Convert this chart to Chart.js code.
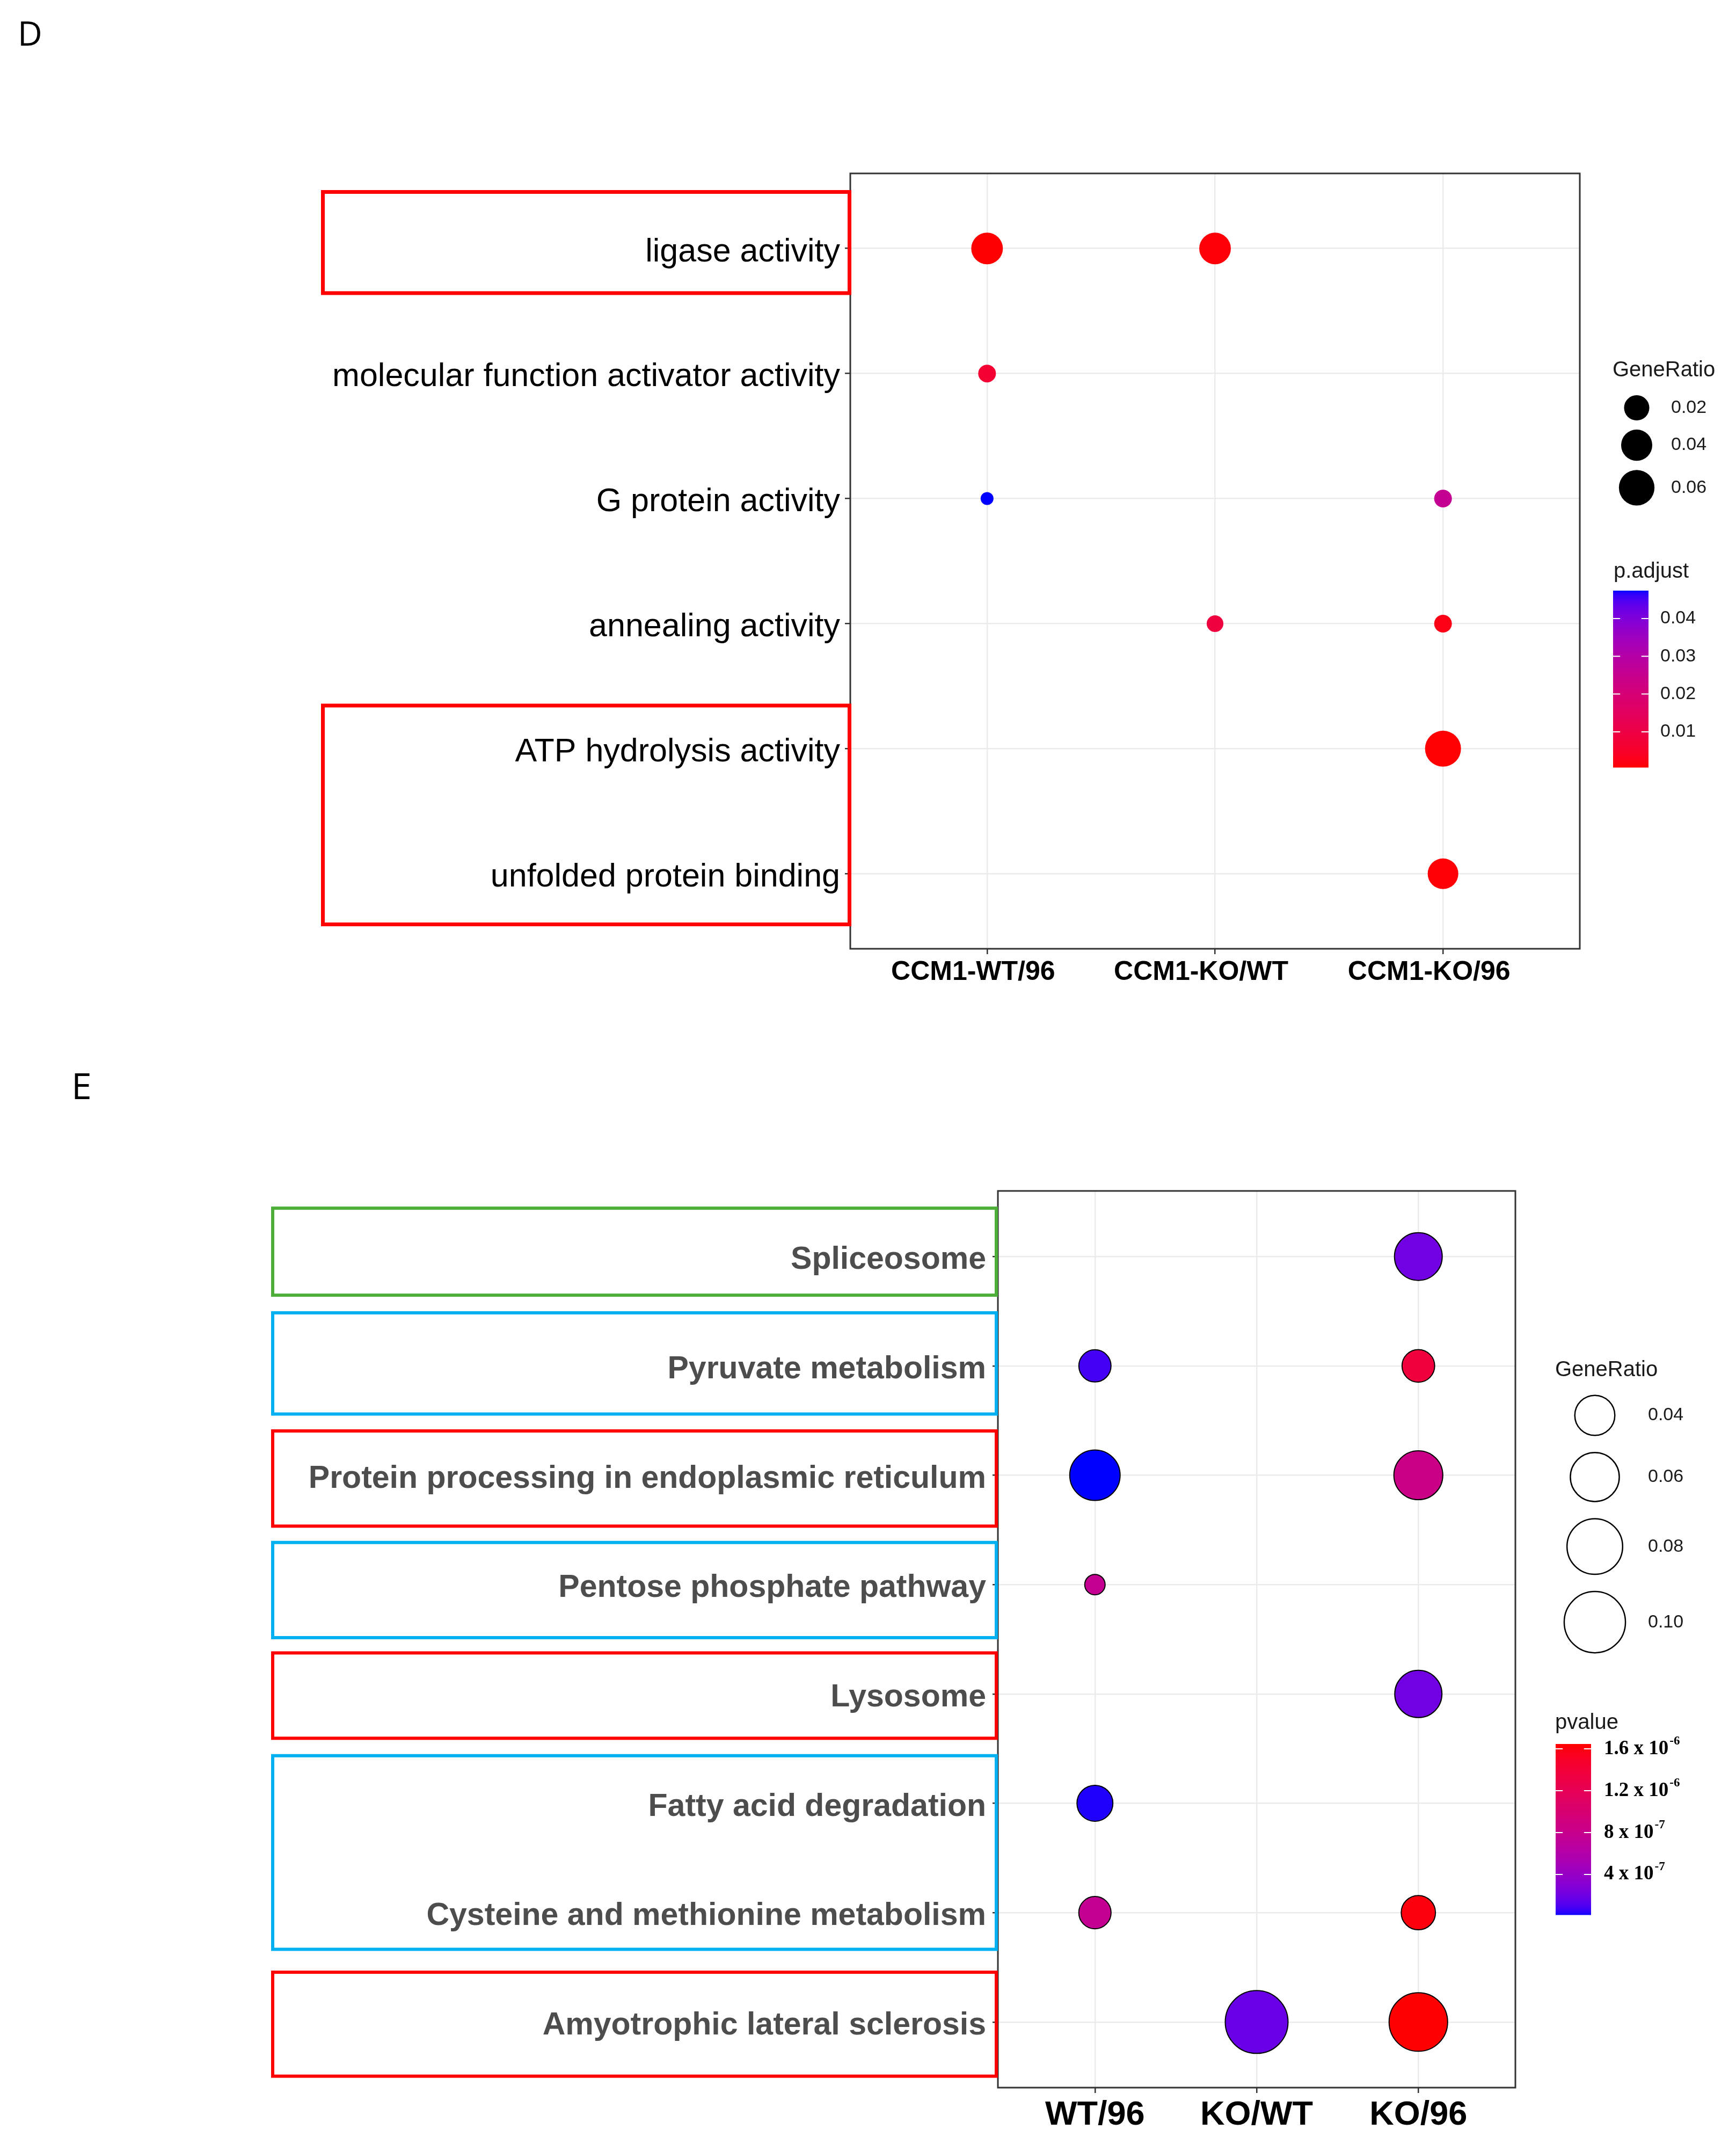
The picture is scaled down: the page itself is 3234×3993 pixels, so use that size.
<!DOCTYPE html>
<html>
<head>
<meta charset="utf-8">
<script src="https://cdn.jsdelivr.net/npm/chart.js@4.4.0/dist/chart.umd.min.js"></script>
<style>
html, body { margin: 0; padding: 0; background: #fff; }
body { width: 3234px; height: 3993px; position: relative; overflow: hidden; }
canvas { position: absolute; left: 0; }
#chartD { top: 0; }
#chartE { top: 1920px; }
</style>
</head>
<body>
<canvas id="chartD" width="3234" height="1920"></canvas>
<canvas id="chartE" width="3234" height="2073"></canvas>
<script>
// ---- panel D : GO terms ----
const dTerms = ['ligase activity', 'molecular function activator activity', 'G protein activity',
                'annealing activity', 'ATP hydrolysis activity', 'unfolded protein binding'];
const dGroups = ['CCM1-WT/96', 'CCM1-KO/WT', 'CCM1-KO/96'];
const dTermIdx  = [0, 0, 1, 2, 2, 3, 3, 4, 5];
const dGroupIdx = [0, 1, 0, 0, 2, 1, 2, 2, 2];
const dGeneRatio = [0.042, 0.042, 0.0056, 0.003, 0.0056, 0.0046, 0.0056, 0.062, 0.0378];
const dPadjust   = [0.0006, 0.0012, 0.0067, 0.0474, 0.026, 0.009, 0.0025, 0.0008, 0.001];
const dSizeBreaks  = [0.02, 0.04, 0.06];
const dColorBreaks = [0.04, 0.03, 0.02, 0.01];

// ---- panel E : KEGG pathways ----
const eTerms = ['Spliceosome', 'Pyruvate metabolism', 'Protein processing in endoplasmic reticulum',
                'Pentose phosphate pathway', 'Lysosome', 'Fatty acid degradation',
                'Cysteine and methionine metabolism', 'Amyotrophic lateral sclerosis'];
const eGroups = ['WT/96', 'KO/WT', 'KO/96'];
const eTermIdx  = [0, 1, 1, 2, 2, 3, 4, 5, 6, 6, 7, 7];
const eGroupIdx = [2, 0, 2, 0, 2, 0, 2, 0, 0, 2, 1, 2];
const eGeneRatio = [0.057, 0.0285, 0.029, 0.064, 0.060, 0.022, 0.0556, 0.0333, 0.0286, 0.031, 0.106, 0.090];
const ePvalue    = [2.1e-7, 8.0e-8, 1.37e-6, 1.5e-8, 8.4e-7, 7.6e-7, 2.1e-7, 3.1e-8, 7.6e-7, 1.61e-6, 1.8e-7, 1.646e-6];
const eSizeBreaks  = [0.04, 0.06, 0.08, 0.10];
const eColorBreaks = [1.6e-6, 1.2e-6, 8e-7, 4e-7];

const W = 3234;
const RED = [255, 0, 0], BLUE = [0, 0, 255];

// colour gradient in Lab space, like ggplot's scale_colour_gradient
const WHITE = [0.95047, 1, 1.08883];
function toLin(c) { c /= 255; return c <= 0.04045 ? c / 12.92 : Math.pow((c + 0.055) / 1.055, 2.4); }
function toSrgb(c) { c = Math.max(0, Math.min(1, c)); return Math.round(255 * (c <= 0.0031308 ? 12.92 * c : 1.055 * Math.pow(c, 1 / 2.4) - 0.055)); }
function fLab(t) { return t > 0.008856 ? Math.cbrt(t) : 7.787 * t + 16 / 116; }
function fInv(t) { return t > 0.206893 ? t * t * t : (t - 16 / 116) / 7.787; }
function rgb2lab(rgb) {
    const [r, g, b] = rgb.map(toLin);
    const X = 0.4124 * r + 0.3576 * g + 0.1805 * b;
    const Y = 0.2126 * r + 0.7152 * g + 0.0722 * b;
    const Z = 0.0193 * r + 0.1192 * g + 0.9505 * b;
    const fx = fLab(X / WHITE[0]), fy = fLab(Y / WHITE[1]), fz = fLab(Z / WHITE[2]);
    return [116 * fy - 16, 500 * (fx - fy), 200 * (fy - fz)];
}
function lab2rgb(lab) {
    const fy = (lab[0] + 16) / 116, fx = fy + lab[1] / 500, fz = fy - lab[2] / 200;
    const X = WHITE[0] * fInv(fx), Y = WHITE[1] * fInv(fy), Z = WHITE[2] * fInv(fz);
    const r = 3.2406 * X - 1.5372 * Y - 0.4986 * Z;
    const g = -0.9689 * X + 1.8758 * Y + 0.0415 * Z;
    const b = 0.0557 * X - 0.2040 * Y + 1.0570 * Z;
    return 'rgb(' + toSrgb(r) + ',' + toSrgb(g) + ',' + toSrgb(b) + ')';
}
function makeColor(values, low, high) {
    const lo = Math.min(...values), hi = Math.max(...values);
    const a = rgb2lab(low), b = rgb2lab(high);
    const fn = v => {
        const t = Math.max(0, Math.min(1, (v - lo) / (hi - lo)));
        return lab2rgb(a.map((x, i) => x + (b[i] - x) * t));
    };
    fn.lo = lo; fn.hi = hi;
    return fn;
}
// point diameter (px) from GeneRatio, area scaled between data min and max
function makeSize(values, range) {
    const lo = Math.min(...values), hi = Math.max(...values);
    return v => range[0] + (range[1] - range[0]) * Math.sqrt(Math.max(0, (v - lo) / (hi - lo)));
}

function sci(v) {
    const e = Math.floor(Math.log10(v) + 1e-9);
    const m = Math.round(v / Math.pow(10, e) * 10) / 10;
    return [m + ' x 10', String(e)];
}

function colorBar(ctx, color, breaks, x, top, w, h, drawLabel) {
    for (let y = 0; y < h; y++) {
        const v = color.hi - (y / h) * (color.hi - color.lo);
        ctx.fillStyle = color(v);
        ctx.fillRect(x, top + y, w, 1.5);
    }
    ctx.strokeStyle = '#fff';
    ctx.lineWidth = 2;
    for (const b of breaks) {
        const ty = top + h - (b - color.lo) / (color.hi - color.lo) * h;
        ctx.beginPath();
        ctx.moveTo(x, ty); ctx.lineTo(x + w / 5, ty);
        ctx.moveTo(x + w - w / 5, ty); ctx.lineTo(x + w, ty);
        ctx.stroke();
        drawLabel(b, ty);
    }
}

function panelPlugin(p) {
    return {
        id: 'panel' + p.letter,
        afterDatasetsDraw(chart) {
            const a = chart.chartArea, ctx = chart.ctx;
            ctx.save();
            ctx.strokeStyle = '#333333';
            ctx.lineWidth = 3;
            ctx.strokeRect(a.left, a.top, a.right - a.left, a.bottom - a.top);
            ctx.restore();
        },
        afterDraw(chart) {
            const ctx = chart.ctx, ys = chart.scales.y;
            ctx.save();
            // highlight boxes round the term labels
            ctx.lineWidth = p.boxWidth;
            for (const b of p.boxes) {
                const t = ys.getPixelForValue(b.from + b.top);
                const bt = ys.getPixelForValue(b.to + b.bottom);
                ctx.strokeStyle = b.color;
                ctx.strokeRect(p.boxLeft + p.boxWidth / 2, t + p.boxWidth / 2,
                    p.boxRight - p.boxLeft - p.boxWidth, bt - t - p.boxWidth);
            }
            // panel letter
            ctx.fillStyle = '#000';
            ctx.font = p.letterFont;
            ctx.textBaseline = 'alphabetic';
            ctx.textAlign = 'left';
            ctx.fillText(p.letter, p.letterX, p.letterY);
            p.legend(ctx);
            ctx.restore();
        }
    };
}

function buildChart(id, p) {
    const H = document.getElementById(id).height;
    const size = p.size, color = p.color;
    const pts = p.termIdx.map((t, i) => ({x: p.groupIdx[i], y: t, r: size(p.ratio[i]) / 2 - p.inset}));
    return new Chart(document.getElementById(id), {
        type: 'bubble',
        data: {
            datasets: [{
                data: pts,
                backgroundColor: p.pval.map(v => color(v)),
                borderColor: '#000',
                borderWidth: p.pointBorder,
                hoverRadius: 0
            }]
        },
        options: {
            responsive: false,
            animation: false,
            devicePixelRatio: 1,
            events: [],
            layout: {padding: {top: p.area.top, right: W - p.area.right, left: 0, bottom: 0}},
            plugins: {legend: {display: false}, tooltip: {enabled: false}},
            scales: {
                x: {
                    type: 'linear', min: -0.6, max: p.groups.length - 0.4,
                    afterBuildTicks: s => { s.ticks = p.groups.map((g, i) => ({value: i})); },
                    afterFit: s => { s.height = H - p.area.bottom; },
                    grid: {color: '#EBEBEB', lineWidth: 2.5, tickLength: 10, tickColor: '#333', tickWidth: 2.5},
                    border: {display: false},
                    ticks: {
                        callback: v => p.groups[v], autoSkip: false, maxRotation: 0, minRotation: 0,
                        font: p.xFont, color: '#000', padding: 4, labelOffset: p.xLabelOffset
                    }
                },
                y: {
                    type: 'linear', reverse: true, min: -0.6, max: p.terms.length - 0.4,
                    afterBuildTicks: s => { s.ticks = p.terms.map((t, i) => ({value: i})); },
                    afterFit: s => { s.width = p.area.left; },
                    grid: {color: '#EBEBEB', lineWidth: 2.5, tickLength: 10, tickColor: '#333', tickWidth: 2.5},
                    border: {display: false},
                    ticks: {
                        callback: v => p.terms[v], autoSkip: false,
                        font: p.yFont, color: p.yColor, padding: p.yPad, labelOffset: 7
                    }
                }
            }
        },
        plugins: [panelPlugin(p)]
    });
}

// ---- panel D ----
const dSize = makeSize(dGeneRatio, [24, 67]);
const dColor = makeColor(dPadjust, RED, BLUE);
buildChart('chartD', {
    letter: 'D', letterX: 33, letterY: 85, letterFont: '63px "Open Sans"',
    terms: dTerms, groups: dGroups, termIdx: dTermIdx, groupIdx: dGroupIdx,
    ratio: dGeneRatio, pval: dPadjust, size: dSize, color: dColor, inset: 0, pointBorder: 0,
    area: {left: 1584, top: 323, right: 2943, bottom: 1767},
    xFont: {family: 'Liberation Sans', size: 50, weight: 'bold'}, xLabelOffset: -26,
    yFont: {family: 'Liberation Sans', size: 61}, yColor: '#000', yPad: 9,
    boxWidth: 7, boxLeft: 598, boxRight: 1586,
    boxes: [
        {from: 0, to: 0, top: -0.467, bottom: 0.372, color: '#FF0000'},
        {from: 4, to: 5, top: -0.36, bottom: 0.42, color: '#FF0000'}
    ],
    legend(ctx) {
        ctx.fillStyle = '#1a1a1a';
        ctx.font = '40px "Liberation Sans"';
        ctx.textBaseline = 'alphabetic';
        ctx.fillText('GeneRatio', 3004, 701);
        let y = 736;
        for (const g of dSizeBreaks) {
            const d = dSize(g);
            const cy = y + d / 2;
            ctx.fillStyle = '#000';
            ctx.beginPath(); ctx.arc(3049, cy, d / 2, 0, Math.PI * 2); ctx.fill();
            ctx.fillStyle = '#1a1a1a';
            ctx.font = '34px "Liberation Sans"';
            ctx.textBaseline = 'middle';
            ctx.fillText(g.toFixed(2), 3113, cy);
            y = cy + d / 2 + 17;
        }
        ctx.textBaseline = 'alphabetic';
        ctx.font = '40px "Liberation Sans"';
        ctx.fillText('p.adjust', 3006, 1076);
        colorBar(ctx, dColor, dColorBreaks, 3005, 1100, 66, 329, (b, ty) => {
            ctx.fillStyle = '#1a1a1a';
            ctx.font = '34px "Liberation Sans"';
            ctx.textBaseline = 'middle';
            ctx.fillText(b.toFixed(2), 3093, ty);
        });
    }
});

// ---- panel E ----
const eSize = makeSize(eGeneRatio, [40, 119]);
const eColor = makeColor(ePvalue, BLUE, RED);
const Y0 = 1920;
const green = '#4DAF3A', cyan = '#00B0F0', red = '#FF0000';
buildChart('chartE', {
    letter: 'E', letterX: 133, letterY: 2047 - Y0, letterFont: '68px "Open Sans"',
    terms: eTerms, groups: eGroups, termIdx: eTermIdx, groupIdx: eGroupIdx,
    ratio: eGeneRatio, pval: ePvalue, size: eSize, color: eColor, inset: 1, pointBorder: 2,
    area: {left: 1859, top: 2218 - Y0, right: 2823, bottom: 3888 - Y0},
    xFont: {family: 'Liberation Sans', size: 63, weight: 'bold'}, xLabelOffset: 0,
    yFont: {family: 'Liberation Sans', size: 59, weight: 'bold'}, yColor: '#4D4D4D', yPad: 12,
    boxWidth: 6, boxLeft: 505, boxRight: 1859,
    boxes: [
        {from: 0, to: 0, top: -0.457, bottom: 0.368, color: green},
        {from: 1, to: 1, top: -0.5, bottom: 0.455, color: cyan},
        {from: 2, to: 2, top: -0.42, bottom: 0.48, color: red},
        {from: 3, to: 3, top: -0.40, bottom: 0.50, color: cyan},
        {from: 4, to: 4, top: -0.39, bottom: 0.42, color: red},
        {from: 5, to: 6, top: -0.45, bottom: 0.35, color: cyan},
        {from: 7, to: 7, top: -0.47, bottom: 0.51, color: red}
    ],
    legend(ctx) {
        ctx.fillStyle = '#1a1a1a';
        ctx.font = '40px "Liberation Sans"';
        ctx.textBaseline = 'alphabetic';
        ctx.fillText('GeneRatio', 2897, 2563 - Y0);
        let y = 2636 - Y0 - eSize(eSizeBreaks[0]) / 2;
        for (const g of eSizeBreaks) {
            const d = eSize(g);
            const cy = y + d / 2;
            ctx.strokeStyle = '#000';
            ctx.lineWidth = 2.5;
            ctx.fillStyle = '#fff';
            ctx.beginPath(); ctx.arc(2971, cy, d / 2 - 1, 0, Math.PI * 2); ctx.fill(); ctx.stroke();
            ctx.fillStyle = '#1a1a1a';
            ctx.font = '34px "Liberation Sans"';
            ctx.textBaseline = 'middle';
            ctx.fillText(g.toFixed(2), 3070, cy);
            y = cy + d / 2 + 30;
        }
        ctx.textBaseline = 'alphabetic';
        ctx.font = '40px "Liberation Sans"';
        ctx.fillText('pvalue', 2897, 3220 - Y0);
        colorBar(ctx, eColor, eColorBreaks, 2898, 3248 - Y0, 66, 318, (b, ty) => {
            const [base, ex] = sci(b);
            ctx.fillStyle = '#000';
            ctx.textBaseline = 'middle';
            ctx.font = 'bold 37px "Liberation Serif"';
            ctx.fillText(base, 2988, ty);
            const w = ctx.measureText(base).width;
            ctx.font = 'bold 23px "Liberation Serif"';
            ctx.fillText(ex, 2988 + w + 2, ty - 14);
        });
    }
});
</script>
</body>
</html>
